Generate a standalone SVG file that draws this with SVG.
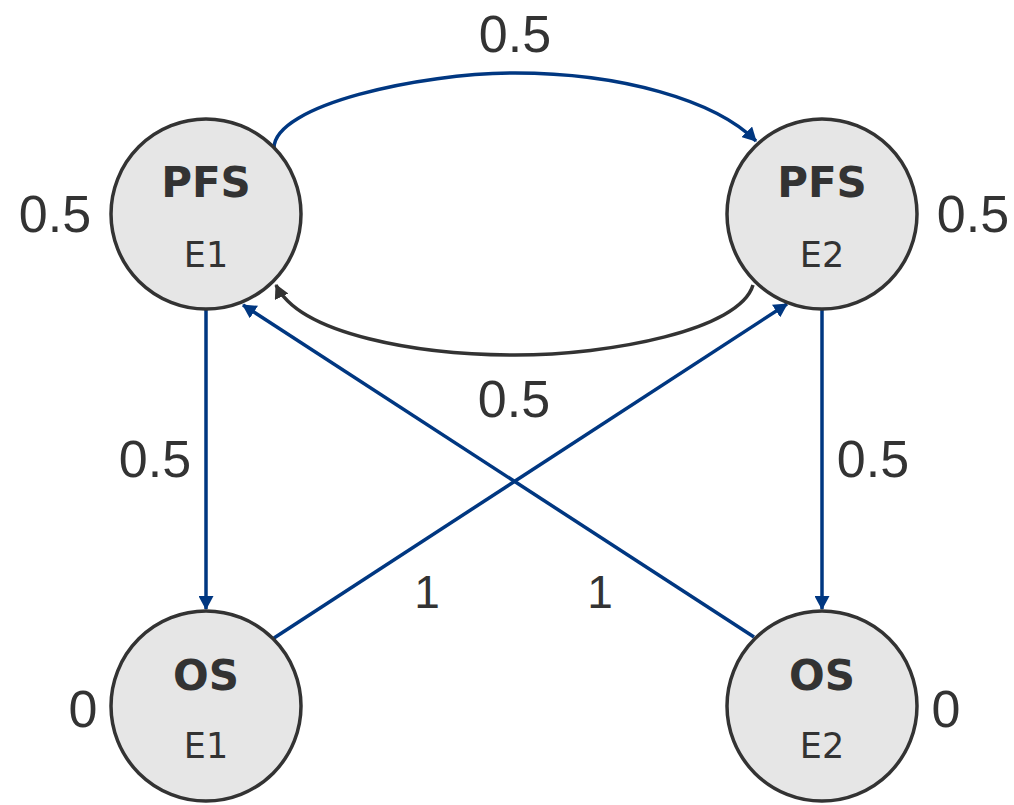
<svg xmlns="http://www.w3.org/2000/svg" width="1014" height="805" viewBox="0 0 1014 805">
  <style>
    .node circle { fill: #e6e6e6; stroke: #333333; stroke-width: 3.5; }
    .title { font-family: "DejaVu Sans", Verdana, sans-serif; font-weight: bold; font-size: 42px; fill: #333333; text-anchor: middle; }
    .sub { font-family: "DejaVu Sans", Verdana, sans-serif; font-size: 35px; fill: #333333; text-anchor: middle; }
    .lbl { font-family: "Liberation Sans", Arial, sans-serif; font-size: 52px; fill: #333333; text-anchor: middle; }
    .lbl1 { font-family: "Liberation Sans", Arial, sans-serif; font-size: 46px; fill: #333333; text-anchor: middle; }
    .blue { fill: none; stroke: #003781; stroke-width: 3.5; marker-end: url(#arrowBlue); }
    .gray { fill: none; stroke: #333333; stroke-width: 3.5; marker-end: url(#arrowGray); }
  </style>
  <defs>
    <marker id="arrowBlue" viewBox="0 0 14 15" refX="13" refY="7.5" markerWidth="14" markerHeight="15" markerUnits="userSpaceOnUse" orient="auto">
      <path d="M0,0 L14,7.5 L0,15 z" fill="#003781"/>
    </marker>
    <marker id="arrowGray" viewBox="0 0 14 15" refX="13" refY="7.5" markerWidth="14" markerHeight="15" markerUnits="userSpaceOnUse" orient="auto">
      <path d="M0,0 L14,7.5 L0,15 z" fill="#333333"/>
    </marker>
  </defs>
  <rect width="1014" height="805" fill="#ffffff"/>

  <g id="connectors">
    <path class="blue" d="M274,148 C274,105 420,73 515,73 C620,73 715,100 756,141"/>
    <path class="gray" d="M753,285 C740,330 610,355 515,355 C420,355 300,335 276,285"/>
    <path class="blue" d="M206,310 L206,609"/>
    <path class="blue" d="M822,310 L822,609"/>
    <path class="blue" d="M274,638 L787,304"/>
    <path class="blue" d="M754,637 L243,305"/>
  </g>

  <g id="node-pfs-e1" class="node">
    <circle cx="206" cy="214" r="95"/>
    <text class="title" x="206" y="197">PFS</text>
    <text class="sub" x="206" y="267">E1</text>
  </g>
  <g id="node-pfs-e2" class="node">
    <circle cx="822" cy="214" r="95"/>
    <text class="title" x="822" y="197">PFS</text>
    <text class="sub" x="822" y="267">E2</text>
  </g>
  <g id="node-os-e1" class="node">
    <circle cx="206" cy="706" r="95"/>
    <text class="title" x="206" y="690">OS</text>
    <text class="sub" x="206" y="758">E1</text>
  </g>
  <g id="node-os-e2" class="node">
    <circle cx="822" cy="706" r="95"/>
    <text class="title" x="822" y="690">OS</text>
    <text class="sub" x="822" y="758">E2</text>
  </g>

  <g id="labels">
    <text class="lbl" x="515" y="52">0.5</text>
    <text class="lbl" x="55" y="232">0.5</text>
    <text class="lbl" x="973" y="232">0.5</text>
    <text class="lbl" x="514" y="417">0.5</text>
    <text class="lbl" x="155" y="477">0.5</text>
    <text class="lbl" x="873" y="477">0.5</text>
    <text class="lbl1" x="427" y="608">1</text>
    <text class="lbl1" x="600" y="608">1</text>
    <text class="lbl" x="83" y="727">0</text>
    <text class="lbl" x="946" y="727">0</text>
  </g>
</svg>
